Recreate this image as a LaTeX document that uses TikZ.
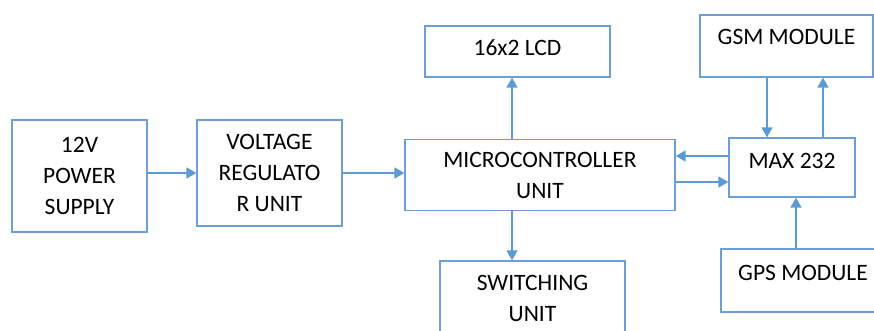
\documentclass[tikz,border=0pt]{standalone}
\usepackage{fontspec}
\setmainfont{Carlito}
\usetikzlibrary{arrows.meta}

\definecolor{wire}{HTML}{5B9BD5}
\definecolor{frame}{HTML}{6E9ED8}

\begin{document}
\begin{tikzpicture}[
  x=1pt, y=-1pt,
  font=\fontsize{23.5}{31}\selectfont,
  blk/.style={draw=frame, line width=1.3pt, inner sep=2pt, align=center},
  arr/.style={->, draw=wire, line width=1.6pt},
  >={Triangle[length=10pt, width=11pt]},
]
\useasboundingbox (0,0) rectangle (874,330);
\clip (0,0) rectangle (874,330);

% power path
\node[blk, minimum width=135pt, minimum height=112pt] (psu) at (79.5,176) {12V\\POWER\\SUPPLY};
\node[blk, minimum width=145pt, minimum height=106pt] (reg) at (269.5,173) {VOLTAGE\\REGULATO\\R UNIT};
\node[blk, minimum width=270pt, minimum height=71pt] (mcu) at (540,175) {MICROCONTROLLER\\UNIT};

% peripherals
\node[blk, minimum width=185pt, minimum height=51pt, text depth=7pt] (lcd) at (517.5,51.5) {16x2 LCD};
\node[blk, minimum width=185pt, minimum height=75pt] (sw) at (532.5,298.5) {SWITCHING\\UNIT};
\node[blk, minimum width=126pt, minimum height=59pt, text depth=13pt] (max) at (792,167.5) {MAX 232};
\node[blk, minimum width=173pt, minimum height=62pt, text depth=18pt] (gsm) at (786.5,46) {GSM MODULE};
\node[blk, minimum width=164pt, minimum height=63pt, text depth=16pt] (gps) at (803,280.5) {GPS MODULE};

\draw[arr] (psu.east |- reg.west) -- (reg.west);
\draw[arr] (reg.east) -- (reg.east -| mcu.west);
\draw[arr] ([xshift=-28pt]mcu.north) -- ([xshift=-28pt]mcu.north |- lcd.south);
\draw[arr] ([xshift=-28pt]mcu.south) -- ([xshift=-28pt]mcu.south |- sw.north);

% serial link
\draw[arr] ([yshift=11.5pt]max.west) -- ([yshift=11.5pt]max.west -| mcu.east);
\draw[arr] ([yshift=-14.5pt]max.west -| mcu.east) -- ([yshift=-14.5pt]max.west);
\draw[arr] ([xshift=-25pt]max.north |- gsm.south) -- ([xshift=-25pt]max.north);
\draw[arr] ([xshift=31pt]max.north) -- ([xshift=31pt]max.north |- gsm.south);
\draw[arr] ([xshift=4pt]max.south |- gps.north) -- ([xshift=4pt]max.south);
\end{tikzpicture}
\end{document}
